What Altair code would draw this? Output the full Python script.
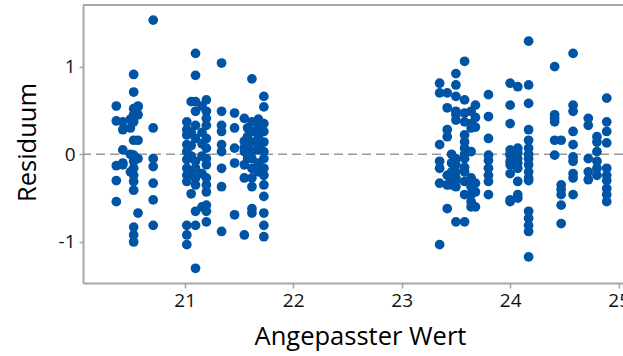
import altair as alt
import pandas as pd

# Fitted value of each column of points and the residuals observed there
col_fitted = [
    20.37, 20.43, 20.50, 20.53, 20.57, 20.71,
    21.02, 21.06, 21.10, 21.16, 21.20, 21.34,
    21.46, 21.55, 21.58, 21.62, 21.68, 21.73,
    23.35, 23.42, 23.46, 23.50, 23.58, 23.64, 23.68, 23.80,
    24.00, 24.07, 24.17,
    24.41, 24.47, 24.58, 24.72, 24.80, 24.89,
]
col_residuals = [
    [0.55, 0.38, -0.13, -0.30, -0.54],
    [0.37, 0.28, 0.05, -0.12, -0.10],
    [0.40, 0.30, 0.00, -0.20],
    [0.91, 0.71, 0.52, 0.45, 0.37, 0.16, -0.01, -0.08, -0.16, -0.24, -0.31, -0.41, -0.83, -0.92, -1.00],
    [0.54, 0.45, 0.16, -0.05, -0.67, 0.55],
    [1.53, 0.30, -0.05, -0.14, -0.33, -0.52, -0.81],
    [0.37, 0.28, 0.22, 0.11, 0.03, -0.06, -0.16, -0.24, -0.31, -0.81, -0.92, -1.03],
    [0.60, 0.10, -0.02, -0.20, -0.45, 0.25],
    [1.15, 0.90, 0.60, 0.49, 0.33, 0.18, -0.08, -0.16, -0.27, -0.35, -0.65, -0.81, -1.30],
    [0.55, 0.25, 0.12, -0.02, -0.22, -0.60],
    [0.62, 0.49, 0.41, 0.33, 0.18, 0.07, -0.05, -0.12, -0.27, -0.35, -0.43, -0.58, -0.65, -0.77],
    [1.04, 0.49, 0.33, 0.26, 0.11, 0.03, -0.16, -0.37, -0.88],
    [0.47, 0.07, -0.69, 0.30, -0.10],
    [0.41, 0.03, -0.12, -0.27, 0.15, 0.08, -0.92],
    [0.20, 0.10, 0.00, -0.05, 0.30],
    [0.86, 0.37, 0.26, 0.14, 0.03, -0.05, -0.16, -0.27, -0.37, -0.62, -0.67],
    [0.30, 0.20, 0.10, 0.05, -0.10, -0.20, 0.40],
    [0.66, 0.54, 0.35, 0.26, 0.14, 0.03, -0.05, -0.16, -0.24, -0.35, -0.48, -0.67, -0.81, -0.94],
    [0.81, 0.70, 0.11, -0.08, -0.16, -0.33, -1.03],
    [0.53, 0.28, 0.20, -0.24, -0.35, -0.62, 0.70],
    [-0.10, -0.20, -0.35, 0.00, -0.30],
    [0.92, 0.79, 0.66, 0.49, 0.39, -0.05, -0.12, -0.20, -0.27, -0.37, -0.77, 0.45, -0.30],
    [1.06, 0.62, 0.47, 0.37, 0.22, 0.14, 0.07, -0.05, -0.20, -0.31, -0.46, -0.77, 0.00, -0.15],
    [0.49, 0.35, 0.30, 0.03, -0.27, -0.37, -0.46, -0.54, -0.60, -0.35],
    [0.56, 0.31, -0.33, -0.43, -0.60, 0.42],
    [0.68, 0.43, 0.18, -0.01, -0.07, -0.16, -0.24, -0.31, -0.46],
    [0.81, 0.56, 0.35, 0.05, -0.01, -0.08, -0.22, -0.52, -0.54, -0.12, 0.00],
    [0.77, 0.07, -0.05, -0.16, -0.31, -0.46, -0.50, 0.02, -0.10],
    [1.29, 0.79, 0.58, 0.28, 0.16, 0.07, -0.05, -0.12, -0.20, -0.27, -0.65, -0.73, -0.81, -0.88, -1.17, 0.00, -0.30],
    [1.00, 0.41, 0.16, -0.01, 0.45, 0.37],
    [0.16, -0.35, -0.46, -0.58, -0.79, -0.40],
    [1.15, 0.56, 0.49, 0.26, 0.11, -0.03, -0.08, -0.22, -0.27, -0.46],
    [0.41, 0.33, -0.05, -0.20, -0.29],
    [0.14, 0.03, -0.08, -0.16, -0.24, 0.20],
    [0.64, 0.37, 0.26, 0.13, -0.16, -0.24, -0.39, -0.46, -0.54, -0.30],
]
x_ticks = [21, 22, 23, 24, 25]
y_ticks = [-1, 0, 1]
x_title = "Angepasster Wert"
y_title = "Residuum"

rows = [
    {"fitted": f, "residual": r}
    for f, res in zip(col_fitted, col_residuals)
    for r in res
]
df = pd.DataFrame(rows)

FONT = "Open Sans"
FRAME = "#a6a6a6"
W, H = 540, 278

x_scale = alt.Scale(domain=[20.063, 25.04], nice=False, zero=False)
y_scale = alt.Scale(domain=[-1.4675, 1.702], nice=False, zero=False)

# plain hyphen for negative tick labels
plain_label = "'' + datum.value"

x_axis = alt.Axis(
    values=x_ticks, labelExpr=plain_label, grid=False,
    domainColor=FRAME, domainWidth=2, tickColor=FRAME, tickWidth=1.5, tickSize=5,
    labelFont=FONT, labelFontSize=19, labelColor="#111111", labelPadding=3,
    labelFlush=False, labelOverlap=False,
    title=x_title, titleFont=FONT, titleFontSize=25.5, titleFontWeight="normal",
    titleColor="#000000", titleX=277, titleY=61, titleAlign="center",
    titleBaseline="alphabetic", titleAnchor="start",
)
y_axis = alt.Axis(
    values=y_ticks, labelExpr=plain_label, grid=False,
    domainColor=FRAME, domainWidth=2, tickColor=FRAME, tickWidth=1.5, tickSize=4,
    labelFont=FONT, labelFontSize=19, labelColor="#111111", labelPadding=4,
    labelOverlap=False,
    title=y_title, titleFont=FONT, titleFontSize=25.5, titleFontWeight="normal",
    titleColor="#000000", titleX=-48, titleY=H / 2 - 2, titleAlign="center",
    titleBaseline="alphabetic", titleAnchor="start", titleAngle=270,
)

points = alt.Chart(df).mark_circle(size=95, opacity=1, color="#0054a6").encode(
    x=alt.X("fitted:Q", scale=x_scale, axis=x_axis),
    y=alt.Y("residual:Q", scale=y_scale, axis=y_axis),
)

zero_line = alt.Chart(pd.DataFrame({"r": [0]})).mark_rule(
    color="#9a9a9a", strokeWidth=1.6, strokeDash=[9, 5]
).encode(y=alt.Y("r:Q", scale=y_scale))

top_border = alt.Chart(pd.DataFrame({"r": [0]})).mark_rule(
    color=FRAME, strokeWidth=2
).encode(x=alt.value(0), x2=alt.value(W), y=alt.value(0))

chart = (
    alt.layer(zero_line, points, top_border)
    .properties(
        width=W, height=H,
        autosize=alt.AutoSizeParams(type="none"),
        padding={"left": 83, "top": 5, "right": 0, "bottom": 73},
    )
    .configure_view(stroke=None)
    .configure(background="white")
)

chart.save("out.html", embed_options={"renderer": "svg", "actions": False})
